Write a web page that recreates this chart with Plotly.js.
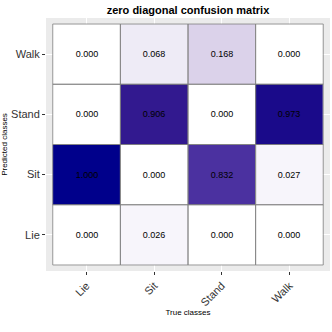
<!DOCTYPE html>
<html>
<head>
<meta charset="utf-8">
<script src="https://cdn.plot.ly/plotly-3.0.1.min.js"></script>
<style>
  html, body { margin: 0; padding: 0; background: #fff; }
  #chart { width: 332px; height: 332px; }
</style>
</head>
<body>
<div id="chart"></div>
<script>
// true classes along x, predicted classes along y (bottom to top)
const trueClasses = ['Lie', 'Sit', 'Stand', 'Walk'];
const predClasses = ['Lie', 'Sit', 'Stand', 'Walk'];

// one row per predicted class
const rowLie   = [0.000, 0.026, 0.000, 0.000];
const rowSit   = [1.000, 0.000, 0.832, 0.027];
const rowStand = [0.000, 0.906, 0.000, 0.973];
const rowWalk  = [0.000, 0.068, 0.168, 0.000];

const zVals = [rowLie, rowSit, rowStand, rowWalk];

const FONT = 'Liberation Sans, Arial, sans-serif';

// white -> darkblue, interpolated roughly like ggplot's Lab gradient
const fillScale = [
    [0.000, '#FFFFFF'],
    [0.027, '#F7F5FB'],
    [0.068, '#EEEBF6'],
    [0.168, '#DBD2EA'],
    [0.500, '#8F7DC6'],
    [0.832, '#4B31A0'],
    [0.906, '#32198F'],
    [0.973, '#1A0A8A'],
    [1.000, '#00008B']
];

// tile outlines, one rect per cell
const shapes = [];
predClasses.forEach((p, i) => {
    trueClasses.forEach((t, j) => {
        shapes.push({
            type: 'rect', xref: 'x', yref: 'y', layer: 'above',
            x0: j - 0.5, x1: j + 0.5, y0: i - 0.5, y1: i + 0.5,
            line: { color: '#808080', width: 0.8 },
            fillcolor: 'rgba(0,0,0,0)'
        });
    });
});

const trace = {
    type: 'heatmap',
    x: trueClasses,
    y: predClasses,
    z: zVals,
    zmin: 0, zmax: 1,
    colorscale: fillScale,
    showscale: false,
    texttemplate: '%{z:.3f}',
    textfont: { family: FONT, size: 9, color: '#000' },
    hoverinfo: 'skip'
};

const axisCommon = {
    type: 'category',
    range: [-0.6, 3.6],
    showgrid: true, gridcolor: '#FFFFFF', gridwidth: 1.1,
    zeroline: false, showline: false,
    ticks: 'outside', ticklen: 3, tickcolor: '#333333', tickwidth: 1,
    tickfont: { family: FONT, size: 11, color: '#333333' },
    fixedrange: true
};

const layout = {
    width: 332, height: 332,
    margin: { l: 46, r: 2, t: 18, b: 61 },
    paper_bgcolor: '#FFFFFF',
    plot_bgcolor: '#EBEBEB',
    font: { family: FONT },
    title: {
        text: '<b>zero diagonal confusion matrix</b>',
        font: { family: FONT, size: 11, color: '#000' },
        x: 0.5, xref: 'paper', xanchor: 'center',
        y: 0.98, yref: 'container'
    },
    xaxis: Object.assign({}, axisCommon, {
        tickangle: -45,
        title: { text: 'True classes', font: { family: FONT, size: 8, color: '#000' }, standoff: 0 }
    }),
    yaxis: Object.assign({}, axisCommon, {
        title: { text: 'Predicted classes', font: { family: FONT, size: 8, color: '#000' }, standoff: 4 }
    }),
    shapes: shapes
};

Plotly.newPlot('chart', [trace], layout, { displayModeBar: false, staticPlot: true });
</script>
</body>
</html>
